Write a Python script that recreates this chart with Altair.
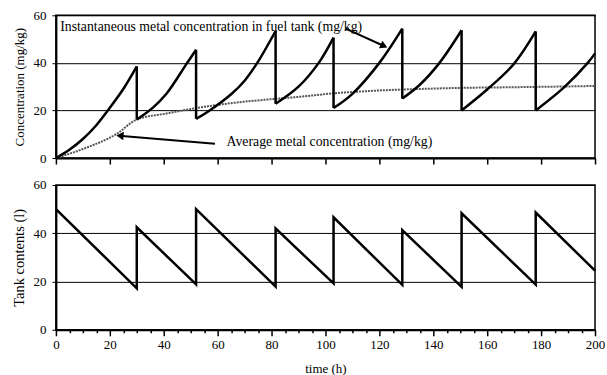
import altair as alt
import pandas as pd

FONT = "Liberation Serif"

# refuelling times (h)
refill_t = [30, 52, 81.5, 103, 128.5, 150.5, 178]

# tank contents (l): linear burn between refills, vertical jump at each refill
tank_t = [0, 30, 30, 52, 52, 81.5, 81.5, 103, 103, 128.5, 128.5, 150.5, 150.5, 178, 178, 200]
tank_l = [50, 17.2, 42.5, 18.8, 50, 17.9, 42, 19.2, 46.6, 18.6, 41.3, 17.8, 48.3, 18.7, 48.6, 24.5]

# instantaneous metal concentration (mg/kg), one list per refill interval
conc_t = [
    [0, 5, 10, 15, 19, 25, 30],
    [30, 36, 41, 48.7, 52],
    [52, 56.5, 65, 70, 74.7, 81.5],
    [81.5, 90, 97.5, 103],
    [103, 110, 120, 128.5],
    [128.5, 135, 142.3, 150.5],
    [150.5, 160.2, 170, 178],
    [178, 188.6, 197.3, 200],
]
conc_c = [
    [0, 3.5, 8, 13.8, 19.6, 29, 38.5],
    [16.2, 21.2, 27, 40, 45.5],
    [16.5, 19.6, 26.8, 32.5, 40, 53.4],
    [22.8, 30, 40, 50.6],
    [21, 27, 40, 54.4],
    [25, 30.8, 40, 53.7],
    [20, 29, 39.7, 53.2],
    [20, 29.8, 40, 44],
]

# running average metal concentration (mg/kg)
avg_t = [0, 10, 22.6, 30, 41, 52, 66, 81.5, 90, 103, 115, 128.5, 140, 150.5, 165, 178, 190, 200]
avg_c = [0, 3.8, 10.2, 16.2, 18.7, 21, 23.2, 24.9, 25.7, 27.2, 28.1, 28.8, 29.2, 29.5, 29.7, 29.9, 30.1, 30.3]

# ---- tables -------------------------------------------------------------
tank_df = pd.DataFrame({"t": tank_t, "v": tank_l, "i": range(len(tank_t))})

rows = []
for k, (ts, cs) in enumerate(zip(conc_t, conc_c)):
    for t, c in zip(ts, cs):
        rows.append({"seg": k, "t": t, "c": c})
conc_df = pd.DataFrame(rows)

drops = pd.DataFrame({
    "t": [conc_t[k][-1] for k in range(len(conc_t) - 1)],
    "top": [conc_c[k][-1] for k in range(len(conc_c) - 1)],
    "bot": [conc_c[k + 1][0] for k in range(len(conc_c) - 1)],
})

avg_df = pd.DataFrame({"t": avg_t, "c": avg_c})

# ---- shared scales / axes ----------------------------------------------
W = 540
xscale = alt.Scale(domain=[0, 200], nice=False, zero=False)
yscale = alt.Scale(domain=[0, 60], nice=False)
tick_size = {"condition": {"test": "datum.value % 20 === 0", "value": 6}, "value": 3}


def x_axis(show_labels):
    kw = dict(
        values=list(range(0, 201, 5)),
        grid=False,
        tickSize=tick_size,
        tickWidth=1.5,
        domainWidth=2,
        labelFlush=False,
        labelOverlap=False,
        labelPadding=3,
    )
    if show_labels:
        kw["labelExpr"] = "datum.value % 20 === 0 ? datum.label : ''"
        kw["title"] = "time (h)"
        kw["titlePadding"] = 11
    else:
        kw["labels"] = False
        kw["title"] = None
    return alt.Axis(**kw)


def y_axis(title, title_size):
    return alt.Axis(
        values=[0, 20, 40, 60],
        grid=True,
        gridColor="black",
        gridWidth=1,
        tickSize=4,
        domainWidth=2,
        labelPadding=6,
        title=title,
        titleFontSize=title_size,
        titlePadding=6,
    )


# ---- top panel: concentration ------------------------------------------
conc_line = alt.Chart(conc_df).mark_line(
    color="black", strokeWidth=2.5, interpolate="catmull-rom"
).encode(
    x=alt.X("t:Q", scale=xscale, axis=x_axis(False)),
    y=alt.Y("c:Q", scale=yscale, axis=y_axis("Concentration (mg/kg)", 13)),
    detail="seg:N",
)

conc_drop = alt.Chart(drops).mark_rule(color="black", strokeWidth=2.5).encode(
    x="t:Q", y="top:Q", y2="bot:Q"
)

avg_line = alt.Chart(avg_df).mark_line(
    color="#555555", strokeWidth=2, strokeDash=[2, 1], interpolate="monotone"
).encode(x="t:Q", y="c:Q")

labels_df = pd.DataFrame({
    "t": [1.6, 63.3],
    "c": [55.2, 6.7],
    "txt": ["Instantaneous metal concentration in fuel tank (mg/kg)",
            "Average metal concentration (mg/kg)"],
})
labels = alt.Chart(labels_df).mark_text(
    align="left", baseline="middle", font=FONT, fontSize=13.8, color="black"
).encode(x="t:Q", y="c:Q", text="txt:N")

arrows_df = pd.DataFrame({
    "t": [107.5, 59], "c": [54.4, 6.0],
    "t2": [121.5, 24.5], "c2": [47.2, 9.3],
    "ht": [121.3, 24.2], "hc": [47.3, 9.35],
    "ang": [114.6, 274.8],
})
arrow_shaft = alt.Chart(arrows_df).mark_rule(color="black", strokeWidth=2).encode(
    x="t:Q", y="c:Q", x2="t2:Q", y2="c2:Q"
)
arrow_head = alt.Chart(arrows_df).mark_point(
    shape="triangle", filled=True, color="black", size=70, opacity=1
).encode(x="ht:Q", y="hc:Q", angle=alt.Angle("ang:Q", scale=None))

top = alt.layer(
    avg_line, conc_line, conc_drop, labels, arrow_shaft, arrow_head
).properties(width=W, height=143)

# ---- bottom panel: tank contents ---------------------------------------
tank_line = alt.Chart(tank_df).mark_line(color="black", strokeWidth=2.5).encode(
    x=alt.X("t:Q", scale=xscale, axis=x_axis(True)),
    y=alt.Y("v:Q", scale=yscale, axis=y_axis("Tank contents (l)", 14.5)),
    order="i:Q",
)
bottom = tank_line.properties(width=W, height=145)

chart = (
    alt.vconcat(top, bottom, spacing=12)
    .properties(
        padding={"left": 11, "top": 8, "right": 1, "bottom": 1},
        background="white",
    )
    .configure_view(stroke="black", strokeWidth=1.5)
    .configure_axis(
        labelFont=FONT, titleFont=FONT,
        labelFontSize=13, titleFontSize=13,
        labelColor="black", titleColor="black",
        domainColor="black", tickColor="black",
        titleFontWeight="normal",
    )
)

chart.save("out.html", embed_options={"renderer": "svg", "actions": False})
